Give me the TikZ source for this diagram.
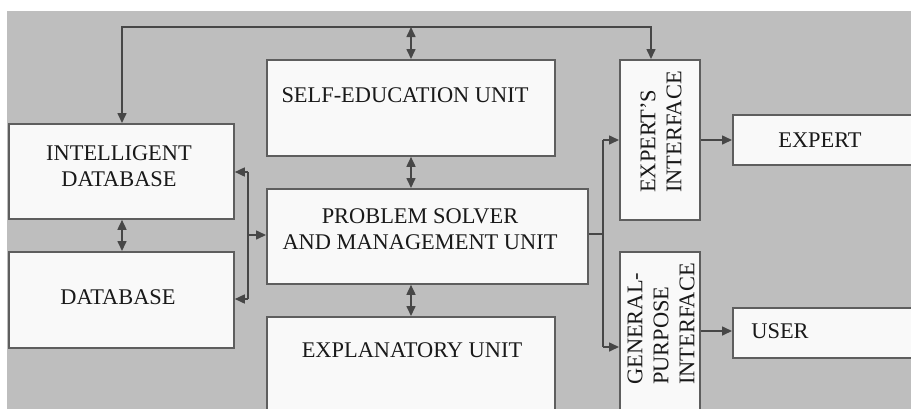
\documentclass[tikz,border=0pt]{standalone}
\usepackage{fontspec}
\setmainfont{Liberation Serif}
\usetikzlibrary{arrows.meta}
\definecolor{bggray}{HTML}{BEBEBE}
\definecolor{boxline}{HTML}{5E5E5E}
\definecolor{conn}{HTML}{474747}
\definecolor{boxfill}{HTML}{F9F9F9}
\tikzset{
  blk/.style={draw=boxline, line width=1.8pt, fill=boxfill, inner sep=0pt, anchor=north west},
  lbl/.style={inner sep=0pt, font=\fontsize{22.4}{26}\selectfont, text=black!90},
  conline/.style={draw=conn, line width=1.6pt, line join=miter},
  tip/.style={conline, -{Triangle[length=10pt,width=9pt]}},
  twotip/.style={conline, {Triangle[length=10pt,width=9pt]}-{Triangle[length=10pt,width=9pt]}}
}
\begin{document}
\begin{tikzpicture}[x=1pt,y=-1pt]
\path[use as bounding box, clip] (0,0) rectangle (911,408);
\fill[bggray] (7,11) rectangle (915,412);
% boxes
\node[blk, minimum width=225pt, minimum height=95pt] (idb) at (8,123) {};
\node[blk, minimum width=225pt, minimum height=96pt] (db) at (8,251) {};
\node[blk, minimum width=288pt, minimum height=96pt] (se) at (266,59) {};
\node[blk, minimum width=321pt, minimum height=95pt] (ps) at (266,188) {};
\node[blk, minimum width=288pt, minimum height=110pt] (ex) at (266,316) {};
\node[blk, minimum width=80pt, minimum height=160pt] (expi) at (619,59) {};
\node[blk, minimum width=80pt, minimum height=170pt] (gpi) at (619,251) {};
\node[blk, minimum width=190pt, minimum height=50pt] (expert) at (732,114) {};
\node[blk, minimum width=190pt, minimum height=50pt] (user) at (732,307) {};
% labels
\node[lbl, align=center] (idbt) at (119,166) {INTELLIGENT\\DATABASE};
\node[lbl, anchor=base] (dbt) at (118,304) {DATABASE};
\node[lbl, anchor=base] (set) at (405,102) {SELF-EDUCATION UNIT};
\node[lbl, align=center] (pst) at (420,229) {PROBLEM SOLVER\\AND MANAGEMENT UNIT};
\node[lbl, anchor=base] (ext) at (412,357) {EXPLANATORY UNIT};
\node[lbl, anchor=base] (expt) at (820,147) {EXPERT};
\node[lbl, anchor=base] (usert) at (780,338) {USER};
\node[lbl, align=left, rotate=90, anchor=west] (expit) at (661,193) {EXPERT'S\\INTERFACE};
\node[lbl, align=left, rotate=90, anchor=west] (gpit) at (661,385) {GENERAL-\\PURPOSE\\INTERFACE};
% coordinates
\coordinate (topL) at (122,27);
\coordinate (topM) at (411,27);
\coordinate (topR) at (651,27);
\coordinate (bl1) at (248,172);
\coordinate (bl2) at (248,299);
\coordinate (bl3) at (248,235);
\coordinate (br0) at (603,234);
\coordinate (br1) at (603,140);
\coordinate (br2) at (603,347);
\coordinate (uy) at (700,331);
% connectors
\draw[twotip] (idb.north -| topL) -- (topL) -- (topR) -- (expi.north -| topR);
\draw[twotip] (topM) -- (se.north -| topM);
\draw[twotip] (se.south -| topM) -- (ps.north -| topM);
\draw[twotip] (ps.south -| topM) -- (ex.north -| topM);
\draw[twotip] (idb.south -| topL) -- (db.north -| topL);
\draw[conline] (bl1) -- (bl2);
\draw[tip] (bl1) -- (bl1 -| idb.east);
\draw[tip] (bl2) -- (bl2 -| db.east);
\draw[tip] (bl3) -- (bl3 -| ps.west);
\draw[conline] (br0 -| ps.east) -- (br0);
\draw[conline] (br1) -- (br2);
\draw[tip] (br1) -- (br1 -| expi.west);
\draw[tip] (br2) -- (br2 -| gpi.west);
\draw[tip] (expi.east |- br1) -- (br1 -| expert.west);
\draw[tip] (gpi.east |- uy) -- (uy -| user.west);
\end{tikzpicture}
\end{document}
